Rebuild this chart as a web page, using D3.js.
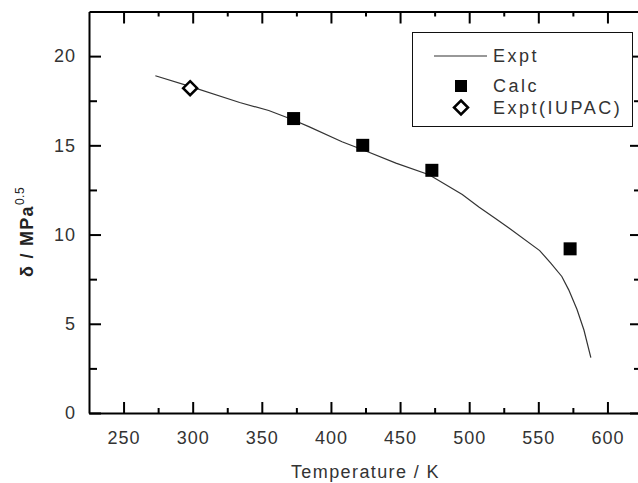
<!DOCTYPE html>
<html><head><meta charset="utf-8">
<script src="https://cdn.jsdelivr.net/npm/d3@7"></script>
<style>
html,body{margin:0;padding:0;background:#fff;overflow:hidden}
svg{display:block}
text{font-family:"Liberation Sans",Arial,sans-serif}
</style></head>
<body>
<svg id="chart" width="638" height="483"></svg>
<script>
// ---- data ----
const exptT = [273, 298, 334, 355, 372, 384, 408, 423, 447, 471, 495, 507, 519, 529, 551, 559, 567, 572, 578, 583, 588];
const exptV = [18.9, 18.3, 17.4, 16.95, 16.45, 16.05, 15.2, 14.75, 14.0, 13.35, 12.25, 11.55, 10.9, 10.35, 9.1, 8.4, 7.65, 6.9, 5.8, 4.65, 3.1];
const calcT = [373, 423, 473, 573];
const calcV = [16.5, 15.0, 13.6, 9.2];
const iupacT = [298.15];
const iupacV = [18.2];
const xTicks = [250, 300, 350, 400, 450, 500, 550, 600];
const xMinor = [275, 325, 375, 425, 475, 525, 575];
const yTicks = [0, 5, 10, 15, 20];
const yMinor = [2.5, 7.5, 12.5, 17.5];
const legendLabels = ["Expt", "Calc", "Expt(IUPAC)"];
const xTitle = "Temperature / K";

// ---- layout ----
const L = 89, R = 642, T = 11.5, B = 413;
const svg = d3.select("#chart");
const x = d3.scaleLinear().domain([225, 625]).range([L, R]);
const y = d3.scaleLinear().domain([0, 22.5]).range([B, T]);

function styleAxis(g){
  g.selectAll("path.domain").attr("stroke","#000").attr("stroke-width",2);
  g.selectAll(".tick line").attr("stroke","#000").attr("stroke-width",2);
  g.selectAll(".tick text").attr("fill","#333").attr("font-size","18px").attr("letter-spacing","1px");
}

// bottom
svg.append("g").attr("transform",`translate(0,${B})`)
  .call(d3.axisBottom(x).tickValues(xTicks).tickSizeInner(-11).tickSizeOuter(0).tickPadding(18).tickFormat(d3.format("d")))
  .call(styleAxis);
svg.append("g").attr("transform",`translate(0,${B})`)
  .call(d3.axisBottom(x).tickValues(xMinor).tickSizeInner(-5).tickSizeOuter(0).tickFormat(""))
  .call(styleAxis).call(g=>g.select("path.domain").remove());
// top
svg.append("g").attr("transform",`translate(0,${T})`)
  .call(d3.axisTop(x).tickValues(xTicks).tickSizeInner(-12).tickSizeOuter(0).tickFormat(""))
  .call(styleAxis);
svg.append("g").attr("transform",`translate(0,${T})`)
  .call(d3.axisTop(x).tickValues(xMinor).tickSizeInner(-5).tickSizeOuter(0).tickFormat(""))
  .call(styleAxis).call(g=>g.select("path.domain").remove());
// left
svg.append("g").attr("transform",`translate(${L},0)`)
  .call(d3.axisLeft(y).tickValues(yTicks).tickSizeInner(-12).tickSizeOuter(0).tickPadding(13).tickFormat(d3.format("d")))
  .call(styleAxis);
svg.append("g").attr("transform",`translate(${L},0)`)
  .call(d3.axisLeft(y).tickValues(yMinor).tickSizeInner(-8).tickSizeOuter(0).tickFormat(""))
  .call(styleAxis).call(g=>g.select("path.domain").remove());
// right
svg.append("g").attr("transform",`translate(${R},0)`)
  .call(d3.axisRight(y).tickValues(yTicks).tickSizeInner(-12).tickSizeOuter(0).tickFormat(""))
  .call(styleAxis);
svg.append("g").attr("transform",`translate(${R},0)`)
  .call(d3.axisRight(y).tickValues(yMinor).tickSizeInner(-8).tickSizeOuter(0).tickFormat(""))
  .call(styleAxis).call(g=>g.select("path.domain").remove());

// axis titles
svg.append("text").attr("x", (x(250)+x(600))/2).attr("y", 478)
  .attr("text-anchor","middle").attr("font-size","18px").attr("letter-spacing","1.4px")
  .attr("fill","#333").text(xTitle);
const yt = svg.append("text").attr("transform","translate(33,232) rotate(-90)")
  .attr("text-anchor","middle").attr("font-size","18px").attr("font-weight","bold")
  .attr("letter-spacing","1.3px").attr("fill","#222");
yt.append("tspan").text("δ / MPa");
yt.append("tspan").attr("dy",-9).attr("font-size","12px").attr("font-weight","normal").attr("letter-spacing","0.5px").text("0.5");

// expt line
const exptData = exptT.map((t,i)=>({t, v: exptV[i]}));
svg.append("path").datum(exptData)
  .attr("fill","none").attr("stroke","#333").attr("stroke-width",1.2)
  .attr("d", d3.line().x(d=>x(d.t)).y(d=>y(d.v)));

// calc squares
const sq = 13;
svg.append("g").selectAll("rect").data(calcT.map((t,i)=>({t, v: calcV[i]}))).join("rect")
  .attr("x", d=>x(d.t)-sq/2).attr("y", d=>y(d.v)-sq/2).attr("width",sq).attr("height",sq)
  .attr("fill","#000");

// IUPAC diamond
const diamond = d3.symbol().type(d3.symbolDiamond2).size(125);
svg.append("g").selectAll("path").data(iupacT.map((t,i)=>({t, v: iupacV[i]}))).join("path")
  .attr("transform", d=>`translate(${x(d.t)},${y(d.v)})`)
  .attr("d", diamond).attr("fill","#fff").attr("stroke","#000").attr("stroke-width",2.5);

// legend
const lg = svg.append("g");
lg.append("rect").attr("x",412.5).attr("y",32.5).attr("width",220).attr("height",94)
  .attr("fill","#fff").attr("stroke","#111").attr("stroke-width",1);
const rows = [56, 86, 107.5];
lg.append("line").attr("x1",434).attr("x2",487).attr("y1",rows[0]).attr("y2",rows[0])
  .attr("stroke","#333").attr("stroke-width",1.2);
lg.append("rect").attr("x",461-6).attr("y",rows[1]-6).attr("width",12).attr("height",12).attr("fill","#000");
lg.append("path").attr("transform",`translate(461,${rows[2]})`).attr("d",diamond)
  .attr("fill","#fff").attr("stroke","#000").attr("stroke-width",2.5);
lg.selectAll("text.lab").data(legendLabels).join("text").attr("class","lab")
  .attr("x",493).attr("y",(d,i)=>rows[i]).attr("dy","0.36em")
  .attr("font-size","18px").attr("letter-spacing","2.5px").attr("fill","#333")
  .text(d=>d);
</script>
</body></html>
